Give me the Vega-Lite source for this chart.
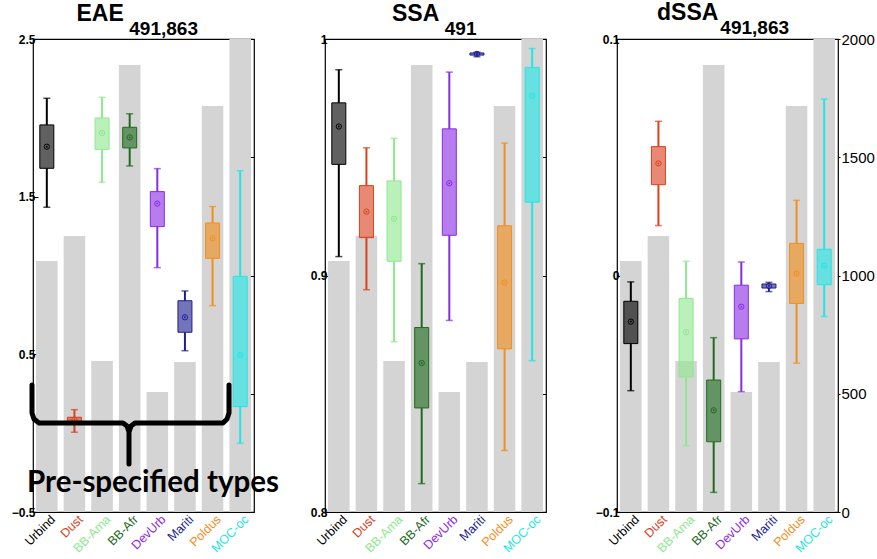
{
  "$schema": "https://vega.github.io/schema/vega-lite/v6.json",
  "background": "white",
  "padding": {"left": 10, "top": 1, "right": 0, "bottom": 0},
  "spacing": 71,
  "bounds": "flush",
  "config": {
    "font": "Liberation Sans",
    "view": {"stroke": "#000", "strokeWidth": 1.2},
    "axis": {"grid": false, "domain": false, "tickColor": "#000"}
  },
  "datasets": {
    "stats": [
      {"panel": "EAE", "type": "Urbind", "count": 1061, "lo": 1.433, "q1": 1.68, "med": 1.817, "q3": 1.955, "hi": 2.124},
      {"panel": "EAE", "type": "Dust", "count": 1167, "lo": 0.006, "q1": 0.065, "med": 0.086, "q3": 0.101, "hi": 0.149},
      {"panel": "EAE", "type": "BB-Ama", "count": 638, "lo": 1.591, "q1": 1.8, "med": 1.904, "q3": 1.999, "hi": 2.13},
      {"panel": "EAE", "type": "BB-Afr", "count": 1890, "lo": 1.695, "q1": 1.809, "med": 1.876, "q3": 1.94, "hi": 2.026},
      {"panel": "EAE", "type": "DevUrb", "count": 507, "lo": 1.05, "q1": 1.31, "med": 1.456, "q3": 1.532, "hi": 1.678},
      {"panel": "EAE", "type": "Mariti", "count": 634, "lo": 0.523, "q1": 0.64, "med": 0.735, "q3": 0.84, "hi": 0.902},
      {"panel": "EAE", "type": "Poldus", "count": 1717, "lo": 0.809, "q1": 1.109, "med": 1.236, "q3": 1.333, "hi": 1.437},
      {"panel": "EAE", "type": "MOC-oc", "count": 2000, "lo": -0.064, "q1": 0.168, "med": 0.494, "q3": 0.995, "hi": 1.665},
      {"panel": "SSA", "type": "Urbind", "count": 1061, "lo": 0.908, "q1": 0.947, "med": 0.963, "q3": 0.973, "hi": 0.987},
      {"panel": "SSA", "type": "Dust", "count": 1167, "lo": 0.894, "q1": 0.916, "med": 0.927, "q3": 0.938, "hi": 0.954},
      {"panel": "SSA", "type": "BB-Ama", "count": 638, "lo": 0.872, "q1": 0.906, "med": 0.924, "q3": 0.94, "hi": 0.958},
      {"panel": "SSA", "type": "BB-Afr", "count": 1890, "lo": 0.812, "q1": 0.844, "med": 0.863, "q3": 0.878, "hi": 0.905},
      {"panel": "SSA", "type": "DevUrb", "count": 507, "lo": 0.881, "q1": 0.917, "med": 0.939, "q3": 0.962, "hi": 0.986},
      {"panel": "SSA", "type": "Mariti", "count": 634, "lo": 0.9925, "q1": 0.9932, "med": 0.9937, "q3": 0.9941, "hi": 0.9944},
      {"panel": "SSA", "type": "Poldus", "count": 1717, "lo": 0.826, "q1": 0.869, "med": 0.897, "q3": 0.921, "hi": 0.956},
      {"panel": "SSA", "type": "MOC-oc", "count": 2000, "lo": 0.864, "q1": 0.931, "med": 0.976, "q3": 0.988, "hi": 0.996},
      {"panel": "dSSA", "type": "Urbind", "count": 1061, "lo": -0.0487, "q1": -0.0288, "med": -0.0195, "q3": -0.0109, "hi": -0.0027},
      {"panel": "dSSA", "type": "Dust", "count": 1167, "lo": 0.0211, "q1": 0.0384, "med": 0.0474, "q3": 0.0545, "hi": 0.0652},
      {"panel": "dSSA", "type": "BB-Ama", "count": 638, "lo": -0.072, "q1": -0.0429, "med": -0.024, "q3": -0.0097, "hi": 0.006},
      {"panel": "dSSA", "type": "BB-Afr", "count": 1890, "lo": -0.0917, "q1": -0.0703, "med": -0.057, "q3": -0.0442, "hi": -0.0263},
      {"panel": "dSSA", "type": "DevUrb", "count": 507, "lo": -0.0491, "q1": -0.0268, "med": -0.0132, "q3": -0.0041, "hi": 0.0057},
      {"panel": "dSSA", "type": "Mariti", "count": 634, "lo": -0.0068, "q1": -0.0053, "med": -0.0044, "q3": -0.0036, "hi": -0.0029},
      {"panel": "dSSA", "type": "Poldus", "count": 1717, "lo": -0.0371, "q1": -0.0118, "med": 0.0008, "q3": 0.0136, "hi": 0.0318},
      {"panel": "dSSA", "type": "MOC-oc", "count": 2000, "lo": -0.0173, "q1": -0.0039, "med": 0.0041, "q3": 0.0111, "hi": 0.0746}
    ],
    "brace": [
      {"i": 1, "bx": -0.036, "by": 0.306},
      {"i": 2, "bx": -0.036, "by": 0.128},
      {"i": 3, "bx": 0.036, "by": 0.09},
      {"i": 4, "bx": 0.217, "by": 0.065},
      {"i": 5, "bx": 3.258, "by": 0.065},
      {"i": 6, "bx": 3.403, "by": 0.046},
      {"i": 7, "bx": 3.475, "by": 0.007},
      {"i": 8, "bx": 3.475, "by": -0.196},
      {"i": 9, "bx": 3.475, "by": 0.007},
      {"i": 10, "bx": 3.548, "by": 0.046},
      {"i": 11, "bx": 3.692, "by": 0.065},
      {"i": 12, "bx": 6.878, "by": 0.065},
      {"i": 13, "bx": 7.023, "by": 0.09},
      {"i": 14, "bx": 7.095, "by": 0.128},
      {"i": 15, "bx": 7.095, "by": 0.306}
    ],
    "note": [{"label": "Pre-specified types", "bx": 4.344, "by": -0.375}]
  },
  "hconcat": [
    {
      "width": 221, "height": 473,
      "title": {"text": "EAE", "subtitle": "\u200b\u00a0\u00a0\u00a0\u00a0\u00a0\u00a0\u00a0\u00a0\u00a0\u00a0491,863", "anchor": "middle", "align": "left", "dx": -67, "frame": "group", "font": "Liberation Sans", "fontSize": 23, "fontWeight": "bold", "subtitleFont": "Liberation Sans", "subtitleFontSize": 19, "subtitleFontWeight": "bold", "subtitlePadding": -6, "offset": -6, "color": "#000", "subtitleColor": "#000"},
      "layer": [
        {
          "data": {"name": "stats"},
          "transform": [{"filter": "datum.panel === 'EAE'"}],
          "encoding": {
            "x": {"field": "type", "type": "nominal", "scale": {"domain": ["Urbind", "Dust", "BB-Ama", "BB-Afr", "DevUrb", "Mariti", "Poldus", "MOC-oc"], "paddingInner": 0.22, "paddingOuter": 0.11}, "axis": null}
          },
          "layer": [
            {
              "mark": {"type": "bar", "color": "#d4d4d4"},
              "encoding": {
                "y": {"field": "count", "type": "quantitative", "scale": {"domain": [0, 2000], "nice": false}, "axis": {"orient": "right", "title": null, "values": [500, 1000, 1500], "labels": false, "tickSize": -5, "domain": false, "grid": false}}
              }
            },
            {
              "mark": {"type": "text", "angle": 315, "align": "right", "baseline": "top", "fontSize": 12.5, "dx": 3},
              "encoding": {
                "y": {"datum": -14, "type": "quantitative"},
                "text": {"field": "type"},
                "color": {"field": "type", "type": "nominal", "scale": {"domain": ["Urbind", "Dust", "BB-Ama", "BB-Afr", "DevUrb", "Mariti", "Poldus", "MOC-oc"], "range": ["#000000", "#d9411e", "#8fe88f", "#1e6b1e", "#8a2be2", "#1f1f8f", "#f28e1c", "#22e6e6"]}, "legend": null}
              }
            }
          ]
        },
        {
          "data": {"name": "stats"},
          "transform": [{"filter": "datum.panel === 'EAE'"}],
          "encoding": {
            "x": {"field": "type", "type": "nominal", "scale": {"domain": ["Urbind", "Dust", "BB-Ama", "BB-Afr", "DevUrb", "Mariti", "Poldus", "MOC-oc"], "paddingInner": 0.22, "paddingOuter": 0.11}, "axis": null},
            "color": {"field": "type", "type": "nominal", "scale": {"domain": ["Urbind", "Dust", "BB-Ama", "BB-Afr", "DevUrb", "Mariti", "Poldus", "MOC-oc"], "range": ["#000000", "#d9411e", "#8fe88f", "#1e6b1e", "#8a2be2", "#1f1f8f", "#f28e1c", "#22e6e6"]}, "legend": null}
          },
          "layer": [
            {"mark": {"type": "rule", "strokeWidth": 2}, "encoding": {"y": {"field": "lo", "type": "quantitative", "scale": {"domain": [-0.5, 2.5], "nice": false, "zero": false}, "axis": {"orient": "left", "title": null, "values": [2.5, 1.5, 0.5, -0.5], "format": "~g", "tickSize": -5, "domain": false, "grid": false, "labelFontSize": 12, "labelFontWeight": "bold", "labelPadding": 3}}, "y2": {"field": "q1"}}},
            {"mark": {"type": "rule", "strokeWidth": 2}, "encoding": {"y": {"field": "q3", "type": "quantitative"}, "y2": {"field": "hi"}}},
            {"mark": {"type": "tick", "size": 7, "thickness": 1.5}, "encoding": {"y": {"field": "lo", "type": "quantitative"}}},
            {"mark": {"type": "tick", "size": 7, "thickness": 1.5}, "encoding": {"y": {"field": "hi", "type": "quantitative"}}},
            {"mark": {"type": "bar", "size": 14, "fillOpacity": 0.62, "strokeWidth": 1}, "encoding": {"y": {"field": "q1", "type": "quantitative"}, "y2": {"field": "q3"}, "stroke": {"field": "type", "type": "nominal", "scale": {"domain": ["Urbind", "Dust", "BB-Ama", "BB-Afr", "DevUrb", "Mariti", "Poldus", "MOC-oc"], "range": ["#000000", "#d9411e", "#8fe88f", "#1e6b1e", "#8a2be2", "#1f1f8f", "#f28e1c", "#22e6e6"]}, "legend": null}}},
            {"mark": {"type": "point", "shape": "circle", "filled": false, "size": 28, "strokeWidth": 1, "opacity": 1}, "encoding": {"y": {"field": "med", "type": "quantitative"}}},
            {"mark": {"type": "point", "shape": "circle", "filled": true, "size": 4, "opacity": 1}, "encoding": {"y": {"field": "med", "type": "quantitative"}}}
          ]
        },
        {
          "layer": [
            {
              "data": {"name": "brace"},
              "mark": {"type": "line", "color": "#000", "strokeWidth": 5, "strokeCap": "round", "strokeJoin": "round"},
              "encoding": {
                "x": {"field": "bx", "type": "quantitative", "scale": {"domain": [0, 8], "nice": false, "zero": false}, "axis": null},
                "y": {"field": "by", "type": "quantitative", "scale": {"domain": [-0.5, 2.5], "nice": false, "zero": false}, "axis": null},
                "order": {"field": "i", "type": "quantitative"}
              }
            },
            {
              "data": {"name": "note"},
              "mark": {"type": "text", "font": "Lato", "fontSize": 29.5, "fontWeight": "bold", "baseline": "alphabetic", "align": "center", "color": "#000"},
              "encoding": {
                "x": {"field": "bx", "type": "quantitative", "axis": null},
                "y": {"field": "by", "type": "quantitative", "axis": null},
                "text": {"field": "label"}
              }
            }
          ]
        }
      ],
      "resolve": {"scale": {"x": "independent", "y": "independent"}, "axis": {"x": "independent", "y": "independent"}}
    },
    {
      "width": 221, "height": 473,
      "title": {"text": "SSA", "subtitle": "\u200b\u00a0\u00a0\u00a0\u00a0\u00a0\u00a0\u00a0\u00a0\u00a0\u00a0491", "anchor": "middle", "align": "left", "dx": -43.5, "frame": "group", "font": "Liberation Sans", "fontSize": 23, "fontWeight": "bold", "subtitleFont": "Liberation Sans", "subtitleFontSize": 19, "subtitleFontWeight": "bold", "subtitlePadding": -6, "offset": -6, "color": "#000", "subtitleColor": "#000"},
      "layer": [
        {
          "data": {"name": "stats"},
          "transform": [{"filter": "datum.panel === 'SSA'"}],
          "encoding": {
            "x": {"field": "type", "type": "nominal", "scale": {"domain": ["Urbind", "Dust", "BB-Ama", "BB-Afr", "DevUrb", "Mariti", "Poldus", "MOC-oc"], "paddingInner": 0.22, "paddingOuter": 0.11}, "axis": null}
          },
          "layer": [
            {
              "mark": {"type": "bar", "color": "#d4d4d4"},
              "encoding": {
                "y": {"field": "count", "type": "quantitative", "scale": {"domain": [0, 2000], "nice": false}, "axis": {"orient": "right", "title": null, "values": [500, 1000, 1500], "labels": false, "tickSize": -5, "domain": false, "grid": false}}
              }
            },
            {
              "mark": {"type": "text", "angle": 315, "align": "right", "baseline": "top", "fontSize": 12.5, "dx": 3},
              "encoding": {
                "y": {"datum": -14, "type": "quantitative"},
                "text": {"field": "type"},
                "color": {"field": "type", "type": "nominal", "scale": {"domain": ["Urbind", "Dust", "BB-Ama", "BB-Afr", "DevUrb", "Mariti", "Poldus", "MOC-oc"], "range": ["#000000", "#d9411e", "#8fe88f", "#1e6b1e", "#8a2be2", "#1f1f8f", "#f28e1c", "#22e6e6"]}, "legend": null}
              }
            }
          ]
        },
        {
          "data": {"name": "stats"},
          "transform": [{"filter": "datum.panel === 'SSA'"}],
          "encoding": {
            "x": {"field": "type", "type": "nominal", "scale": {"domain": ["Urbind", "Dust", "BB-Ama", "BB-Afr", "DevUrb", "Mariti", "Poldus", "MOC-oc"], "paddingInner": 0.22, "paddingOuter": 0.11}, "axis": null},
            "color": {"field": "type", "type": "nominal", "scale": {"domain": ["Urbind", "Dust", "BB-Ama", "BB-Afr", "DevUrb", "Mariti", "Poldus", "MOC-oc"], "range": ["#000000", "#d9411e", "#8fe88f", "#1e6b1e", "#8a2be2", "#1f1f8f", "#f28e1c", "#22e6e6"]}, "legend": null}
          },
          "layer": [
            {"mark": {"type": "rule", "strokeWidth": 2}, "encoding": {"y": {"field": "lo", "type": "quantitative", "scale": {"domain": [0.8, 1.0], "nice": false, "zero": false}, "axis": {"orient": "left", "title": null, "values": [1, 0.9, 0.8], "format": "~g", "tickSize": -5, "domain": false, "grid": false, "labelFontSize": 12, "labelFontWeight": "bold", "labelPadding": 3}}, "y2": {"field": "q1"}}},
            {"mark": {"type": "rule", "strokeWidth": 2}, "encoding": {"y": {"field": "q3", "type": "quantitative"}, "y2": {"field": "hi"}}},
            {"mark": {"type": "tick", "size": 7, "thickness": 1.5}, "encoding": {"y": {"field": "lo", "type": "quantitative"}}},
            {"mark": {"type": "tick", "size": 7, "thickness": 1.5}, "encoding": {"y": {"field": "hi", "type": "quantitative"}}},
            {"mark": {"type": "bar", "size": 14, "fillOpacity": 0.62, "strokeWidth": 1}, "encoding": {"y": {"field": "q1", "type": "quantitative"}, "y2": {"field": "q3"}, "stroke": {"field": "type", "type": "nominal", "scale": {"domain": ["Urbind", "Dust", "BB-Ama", "BB-Afr", "DevUrb", "Mariti", "Poldus", "MOC-oc"], "range": ["#000000", "#d9411e", "#8fe88f", "#1e6b1e", "#8a2be2", "#1f1f8f", "#f28e1c", "#22e6e6"]}, "legend": null}}},
            {"mark": {"type": "point", "shape": "circle", "filled": false, "size": 28, "strokeWidth": 1, "opacity": 1}, "encoding": {"y": {"field": "med", "type": "quantitative"}}},
            {"mark": {"type": "point", "shape": "circle", "filled": true, "size": 4, "opacity": 1}, "encoding": {"y": {"field": "med", "type": "quantitative"}}}
          ]
        }
      ],
      "resolve": {"scale": {"x": "independent", "y": "independent"}, "axis": {"x": "independent", "y": "independent"}}
    },
    {
      "width": 221, "height": 473,
      "title": {"text": "dSSA", "subtitle": "\u200b\u00a0\u00a0\u00a0\u00a0\u00a0\u00a0\u00a0\u00a0\u00a0\u00a0\u00a0\u00a0491,863", "anchor": "middle", "align": "left", "dx": -70.5, "frame": "group", "font": "Liberation Sans", "fontSize": 23, "fontWeight": "bold", "subtitleFont": "Liberation Sans", "subtitleFontSize": 19, "subtitleFontWeight": "bold", "subtitlePadding": -6, "offset": -6, "color": "#000", "subtitleColor": "#000"},
      "layer": [
        {
          "data": {"name": "stats"},
          "transform": [{"filter": "datum.panel === 'dSSA'"}],
          "encoding": {
            "x": {"field": "type", "type": "nominal", "scale": {"domain": ["Urbind", "Dust", "BB-Ama", "BB-Afr", "DevUrb", "Mariti", "Poldus", "MOC-oc"], "paddingInner": 0.22, "paddingOuter": 0.11}, "axis": null}
          },
          "layer": [
            {
              "mark": {"type": "bar", "color": "#d4d4d4"},
              "encoding": {
                "y": {"field": "count", "type": "quantitative", "scale": {"domain": [0, 2000], "nice": false}, "axis": {"orient": "right", "title": null, "values": [0, 500, 1000, 1500, 2000], "format": "d", "tickSize": 2, "domain": false, "grid": false, "labelFontSize": 15, "labelPadding": 1}}
              }
            },
            {
              "mark": {"type": "text", "angle": 315, "align": "right", "baseline": "top", "fontSize": 12.5, "dx": 3},
              "encoding": {
                "y": {"datum": -14, "type": "quantitative"},
                "text": {"field": "type"},
                "color": {"field": "type", "type": "nominal", "scale": {"domain": ["Urbind", "Dust", "BB-Ama", "BB-Afr", "DevUrb", "Mariti", "Poldus", "MOC-oc"], "range": ["#000000", "#d9411e", "#8fe88f", "#1e6b1e", "#8a2be2", "#1f1f8f", "#f28e1c", "#22e6e6"]}, "legend": null}
              }
            }
          ]
        },
        {
          "data": {"name": "stats"},
          "transform": [{"filter": "datum.panel === 'dSSA'"}],
          "encoding": {
            "x": {"field": "type", "type": "nominal", "scale": {"domain": ["Urbind", "Dust", "BB-Ama", "BB-Afr", "DevUrb", "Mariti", "Poldus", "MOC-oc"], "paddingInner": 0.22, "paddingOuter": 0.11}, "axis": null},
            "color": {"field": "type", "type": "nominal", "scale": {"domain": ["Urbind", "Dust", "BB-Ama", "BB-Afr", "DevUrb", "Mariti", "Poldus", "MOC-oc"], "range": ["#000000", "#d9411e", "#8fe88f", "#1e6b1e", "#8a2be2", "#1f1f8f", "#f28e1c", "#22e6e6"]}, "legend": null}
          },
          "layer": [
            {"mark": {"type": "rule", "strokeWidth": 2}, "encoding": {"y": {"field": "lo", "type": "quantitative", "scale": {"domain": [-0.1, 0.1], "nice": false, "zero": false}, "axis": {"orient": "left", "title": null, "values": [0.1, 0, -0.1], "format": "~g", "tickSize": -5, "domain": false, "grid": false, "labelFontSize": 12, "labelFontWeight": "bold", "labelPadding": 3}}, "y2": {"field": "q1"}}},
            {"mark": {"type": "rule", "strokeWidth": 2}, "encoding": {"y": {"field": "q3", "type": "quantitative"}, "y2": {"field": "hi"}}},
            {"mark": {"type": "tick", "size": 7, "thickness": 1.5}, "encoding": {"y": {"field": "lo", "type": "quantitative"}}},
            {"mark": {"type": "tick", "size": 7, "thickness": 1.5}, "encoding": {"y": {"field": "hi", "type": "quantitative"}}},
            {"mark": {"type": "bar", "size": 14, "fillOpacity": 0.62, "strokeWidth": 1}, "encoding": {"y": {"field": "q1", "type": "quantitative"}, "y2": {"field": "q3"}, "stroke": {"field": "type", "type": "nominal", "scale": {"domain": ["Urbind", "Dust", "BB-Ama", "BB-Afr", "DevUrb", "Mariti", "Poldus", "MOC-oc"], "range": ["#000000", "#d9411e", "#8fe88f", "#1e6b1e", "#8a2be2", "#1f1f8f", "#f28e1c", "#22e6e6"]}, "legend": null}}},
            {"mark": {"type": "point", "shape": "circle", "filled": false, "size": 28, "strokeWidth": 1, "opacity": 1}, "encoding": {"y": {"field": "med", "type": "quantitative"}}},
            {"mark": {"type": "point", "shape": "circle", "filled": true, "size": 4, "opacity": 1}, "encoding": {"y": {"field": "med", "type": "quantitative"}}}
          ]
        }
      ],
      "resolve": {"scale": {"x": "independent", "y": "independent"}, "axis": {"x": "independent", "y": "independent"}}
    }
  ]
}
